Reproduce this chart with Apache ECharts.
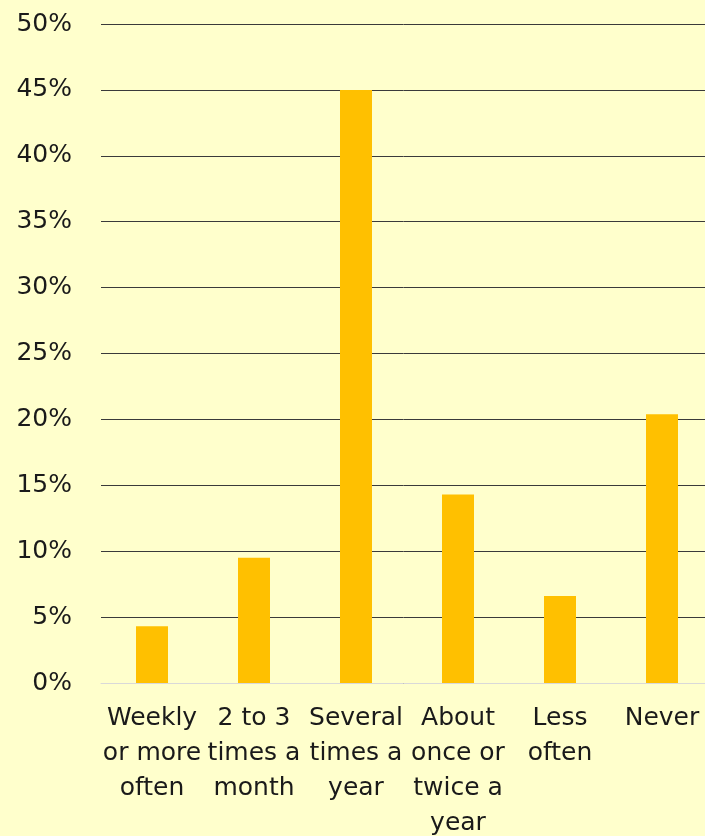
<!DOCTYPE html>
<html>
<head>
<meta charset="utf-8">
<script src="https://cdn.jsdelivr.net/npm/echarts@6/dist/echarts.min.js"></script>
<style>
html,body{margin:0;padding:0;background:#FFFFCC;}
#chart{width:705px;height:836px;}
</style>
</head>
<body>
<div id="chart"></div>
<script>
var categories = ["Weekly\nor more\noften", "2 to 3\ntimes a\nmonth", "Several\ntimes a\nyear", "About\nonce or\ntwice a\nyear", "Less\noften", "Never"];
var values = [4.3, 9.5, 45.0, 14.3, 6.6, 20.4];

var chart = echarts.init(document.getElementById('chart'));
chart.setOption({
  backgroundColor: '#FFFFCC',
  animation: false,
  grid: {left: 101, top: 24, width: 612, height: 659, containLabel: false, outerBoundsMode: 'none'},
  xAxis: {
    type: 'category',
    data: categories,
    axisLine: {show: true, lineStyle: {color: '#D9D9D9', width: 1}},
    axisTick: {show: false},
    axisLabel: {
      interval: 0, margin: 18, color: '#1a1a1a',
      fontFamily: 'DejaVu Sans', fontSize: 25, lineHeight: 35
    }
  },
  yAxis: {
    type: 'value', min: 0, max: 50, interval: 5,
    axisLine: {show: false}, axisTick: {show: false},
    splitLine: {lineStyle: {color: '#3a3a3a', width: 1}},
    axisLabel: {
      formatter: '{value}%', margin: 29, color: '#1a1a1a',
      fontFamily: 'DejaVu Sans', fontSize: 25
    }
  },
  series: [{
    type: 'bar', data: values, barWidth: 32,
    itemStyle: {color: '#FFC000'}
  }]
});
</script>
</body>
</html>
